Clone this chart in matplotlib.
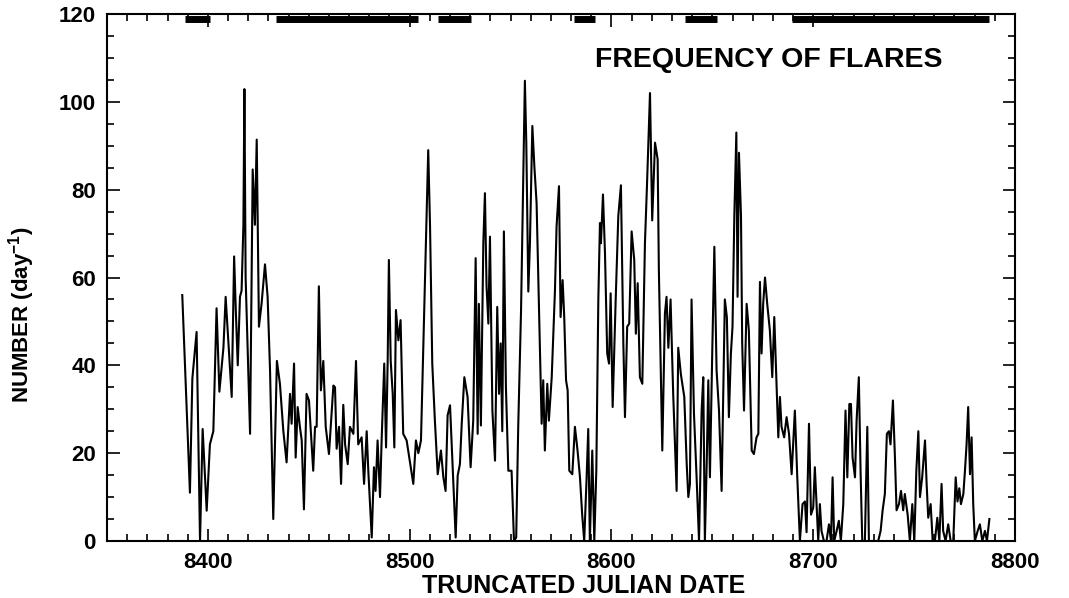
import matplotlib
matplotlib.use("Agg")
import matplotlib.pyplot as plt
from matplotlib.ticker import MultipleLocator

plt.rcParams['font.family'] = ['Liberation Sans', 'DejaVu Sans']
plt.rcParams['font.weight'] = 'bold'
plt.rcParams['mathtext.default'] = 'regular'

# Flare counts per day (truncated Julian date, number)
dates = [
    8387.3, 8391.1, 8392.3, 8394.4, 8396.1, 8397.4, 8399.4, 8401.0, 8402.7, 8404.3,
    8405.7, 8407.7, 8408.8, 8411.8, 8413.0, 8413.8, 8414.8, 8415.9, 8416.7, 8417.6,
    8418.1, 8418.7, 8420.9, 8422.2, 8423.3, 8424.2, 8425.3, 8426.6, 8428.3, 8429.6,
    8430.8, 8432.4, 8434.2, 8435.7, 8437.4, 8439.0, 8440.7, 8441.5, 8442.7, 8443.5,
    8444.5, 8445.6, 8446.5, 8447.6, 8448.9, 8450.1, 8452.2, 8453.1, 8453.9, 8455.0,
    8456.0, 8457.2, 8458.4, 8460.0, 8462.2, 8463.0, 8463.8, 8465.0, 8466.0, 8467.1,
    8468.0, 8469.3, 8470.4, 8472.1, 8473.4, 8474.5, 8476.2, 8477.4, 8478.7, 8479.5,
    8481.2, 8482.3, 8483.1, 8484.1, 8485.3, 8486.1, 8487.4, 8488.3, 8489.1, 8489.7,
    8490.6, 8491.6, 8492.4, 8493.2, 8494.4, 8495.5, 8496.8, 8498.5, 8501.8, 8503.1,
    8504.3, 8505.6, 8507.3, 8509.2, 8510.1, 8511.2, 8512.5, 8513.9, 8515.5, 8516.7,
    8517.8, 8518.8, 8520.0, 8521.3, 8522.8, 8523.8, 8524.9, 8525.8, 8527.1, 8528.7,
    8530.2, 8531.5, 8532.7, 8533.7, 8534.3, 8535.3, 8536.5, 8537.3, 8538.1, 8539.0,
    8539.8, 8541.0, 8542.3, 8543.4, 8544.3, 8545.1, 8545.9, 8546.7, 8547.7, 8548.9,
    8550.5, 8551.7, 8552.8, 8553.8, 8555.2, 8556.3, 8557.1, 8557.8, 8558.8, 8559.6,
    8560.8, 8561.8, 8562.9, 8564.1, 8565.4, 8566.2, 8567.0, 8568.2, 8569.0, 8570.4,
    8572.0, 8572.8, 8574.0, 8574.8, 8575.8, 8576.6, 8577.5, 8578.3, 8579.1, 8580.6,
    8581.9, 8583.2, 8584.4, 8585.5, 8586.5, 8587.7, 8588.5, 8589.3, 8590.5, 8591.5,
    8592.5, 8593.5, 8594.3, 8594.8, 8595.8, 8596.8, 8597.9, 8598.8, 8599.6, 8600.6,
    8602.1, 8603.4, 8604.7, 8605.9, 8606.7, 8607.8, 8608.8, 8610.0, 8611.3, 8612.1,
    8613.0, 8614.1, 8615.3, 8616.6, 8617.6, 8619.1, 8620.2, 8621.6, 8622.9, 8623.5,
    8625.2, 8626.5, 8627.3, 8628.2, 8629.3, 8630.6, 8632.3, 8633.1, 8634.4, 8636.1,
    8637.3, 8638.1, 8638.9, 8639.7, 8640.9, 8642.2, 8643.4, 8644.7, 8645.5, 8646.3,
    8647.2, 8648.0, 8648.8, 8650.0, 8651.0, 8652.1, 8653.3, 8654.6, 8656.2, 8657.2,
    8658.2, 8659.2, 8660.0, 8660.9, 8661.9, 8662.5, 8663.2, 8664.2, 8664.8, 8665.7,
    8667.0, 8668.1, 8669.5, 8670.6, 8671.9, 8672.8, 8673.6, 8674.4, 8675.2, 8676.1,
    8677.2, 8678.5, 8679.7, 8680.7, 8681.8, 8682.7, 8683.5, 8684.3, 8685.6, 8686.8,
    8688.0, 8689.3, 8690.9, 8692.1, 8693.4, 8694.7, 8695.9, 8696.7, 8697.9, 8698.9,
    8700.0, 8700.8, 8702.5, 8703.3, 8704.1, 8705.3, 8706.6, 8707.8, 8708.8, 8709.6,
    8710.4, 8711.6, 8712.7, 8713.7, 8714.9, 8716.0, 8716.9, 8717.9, 8718.7, 8719.5,
    8720.7, 8721.5, 8722.6, 8723.5, 8724.3, 8725.6, 8726.8, 8727.6, 8728.9, 8730.6,
    8732.2, 8733.4, 8734.4, 8735.5, 8736.5, 8737.5, 8738.3, 8739.5, 8740.5, 8741.3,
    8742.5, 8743.5, 8744.6, 8745.4, 8746.8, 8747.9, 8749.1, 8750.1, 8751.1, 8752.1,
    8752.9, 8754.0, 8755.4, 8756.2, 8757.0, 8758.2, 8759.2, 8760.3, 8761.5, 8762.5,
    8763.6, 8764.4, 8765.6, 8766.9, 8768.1, 8769.4, 8770.6, 8771.5, 8772.4, 8773.2,
    8774.4, 8775.2, 8776.0, 8776.8, 8777.7, 8778.5, 8779.3, 8780.1, 8781.5, 8782.6,
    8783.8, 8785.1, 8786.1, 8787.3,
]
counts = [
    56, 11, 37, 47.6, 0, 25.5, 6.9, 22, 25, 53,
    34, 44, 55.6, 32.8, 64.8, 53, 40, 55.6, 57, 72,
    102.9, 60, 24.4, 84.6, 72, 91.4, 48.8, 54, 63, 55.6,
    38.9, 5, 41, 35.8, 25, 17.9, 33.5, 26.7, 40.4, 19,
    30.5, 26, 22.9, 7.2, 33.5, 32, 16, 26, 26, 58,
    34.3, 41, 26, 19.8, 35.4, 35, 21, 26, 13, 31,
    22, 17.5, 26, 24.4, 41, 22, 23.6, 13, 25, 16,
    0.8, 16.8, 11.4, 22.9, 10, 22.9, 40.4, 21.3, 41, 64,
    41, 33.5, 21.3, 52.6, 45.7, 50.3, 24.4, 22.9, 13, 22.9,
    20, 22.9, 54, 89, 71.6, 40.4, 27.4, 15.2, 20.6, 14.5,
    11.4, 28.6, 30.9, 16.8, 0.8, 14.9, 17.5, 26.7, 37.3, 32.8,
    16.8, 27.4, 64.4, 24.4, 54, 26.3, 67.8, 79.2, 58, 49.5,
    69.3, 29.7, 18.3, 53.3, 33.5, 45, 25, 70.5, 35, 16,
    16, 0, 0.8, 26, 52.6, 83, 104.8, 90.7, 56.8, 67.8,
    94.5, 85.3, 77, 52.6, 26.7, 36.6, 20.6, 35.8, 27.4, 37.3,
    57, 71.6, 80.8, 51, 59.4, 51, 36.6, 34.3, 16, 15.2,
    26, 20.6, 14.5, 6, 0, 14.5, 25.5, 0, 20.6, 0,
    16, 55, 72.4, 67.8, 78.9, 65.5, 42.7, 40.4, 56.4, 30.5,
    54.9, 74, 81, 45, 28.2, 48.8, 49.5, 70.5, 64, 47.2,
    58.7, 37.3, 35.8, 67.8, 80.8, 102, 73, 90.7, 86.9, 61.7,
    20.6, 51.8, 55.6, 44, 55, 33.5, 11.4, 44, 38, 32.8,
    17.5, 10, 13, 55, 29, 14.5, 0, 29.7, 37.3, 0,
    17.5, 36.6, 14.5, 44, 67, 38.9, 29.7, 11.4, 55, 51,
    28.2, 42.7, 48.8, 74, 93, 55.6, 88.4, 74, 45, 29.7,
    54, 48, 20.6, 19.8, 23.6, 24.4, 59, 42.7, 54, 60,
    54, 48, 37.3, 51, 35.8, 23.6, 32.8, 26, 23.6, 28.2,
    24.4, 15.2, 29.7, 14.5, 0, 8.4, 9, 2, 26.7, 6,
    7.6, 16.8, 0, 8.4, 2.3, 0, 0, 3.8, 0, 14.5,
    0, 2.3, 4.6, 0, 8.4, 29.7, 14.5, 31.2, 31.2, 19,
    14.5, 27.4, 37.3, 15.2, 0, 0, 26, 0, 0, 0,
    0, 2.3, 7, 10.7, 24.4, 25, 22, 32, 19, 7,
    8.4, 11.4, 7, 10.7, 6, 0, 8.4, 0, 16, 25,
    10, 14.5, 22.9, 13, 5.3, 8.4, 0, 0, 5.3, 0,
    13, 2.3, 0, 3.8, 0, 0, 14.5, 9, 12, 8.4,
    10.7, 16, 22, 30.5, 15.2, 23.6, 8.4, 0, 2.3, 3.8,
    0, 2.3, 0, 5,
]

# Observation coverage bars along the top (start, end)
bar_starts = [8388.7, 8433.7, 8514.0, 8581.4, 8636.6, 8689.4]
bar_ends = [8401.0, 8504.1, 8530.4, 8591.8, 8652.4, 8787.1]
bar_level = 118.8

title_text = "FREQUENCY OF FLARES"
x_label = "TRUNCATED JULIAN DATE"
y_label = "NUMBER (day$^{-1}$)"

fig = plt.figure(figsize=(10.69, 5.98), dpi=100)
ax = fig.add_axes([107/1069, 1 - 541/598, (1015 - 107)/1069, (541 - 14)/598])

ax.plot(dates, counts, color='black', lw=1.5)
for s, e in zip(bar_starts, bar_ends):
    ax.plot([s, e], [bar_level, bar_level], color='black', lw=5, solid_capstyle='butt')

ax.set_xlim(8350, 8800)
ax.set_ylim(0, 120)
ax.xaxis.set_major_locator(MultipleLocator(100))
ax.xaxis.set_minor_locator(MultipleLocator(10))
ax.yaxis.set_major_locator(MultipleLocator(20))
ax.yaxis.set_minor_locator(MultipleLocator(5))
ax.tick_params(which='both', direction='in', top=True, right=True, width=1.2)
ax.tick_params(which='major', length=9, labelsize=16, pad=8)
ax.tick_params(which='minor', length=5)
for sp in ax.spines.values():
    sp.set_linewidth(1.5)
for lab in ax.get_xticklabels() + ax.get_yticklabels():
    lab.set_fontweight('bold')

ax.text(8678, 109.5, title_text, fontsize=20.5, fontweight='bold', ha='center', va='center')
ax.set_xlabel(x_label, fontsize=18, fontweight='bold', labelpad=0)
ax.xaxis.set_label_coords(0.525, -0.062, transform=ax.transAxes)
ax.xaxis.label.set_va('top')
ax.set_ylabel(y_label, fontsize=16, fontweight='bold')
ax.yaxis.set_label_coords(-0.077, 0.43, transform=ax.transAxes)

fig.savefig("out.png", dpi=100)
